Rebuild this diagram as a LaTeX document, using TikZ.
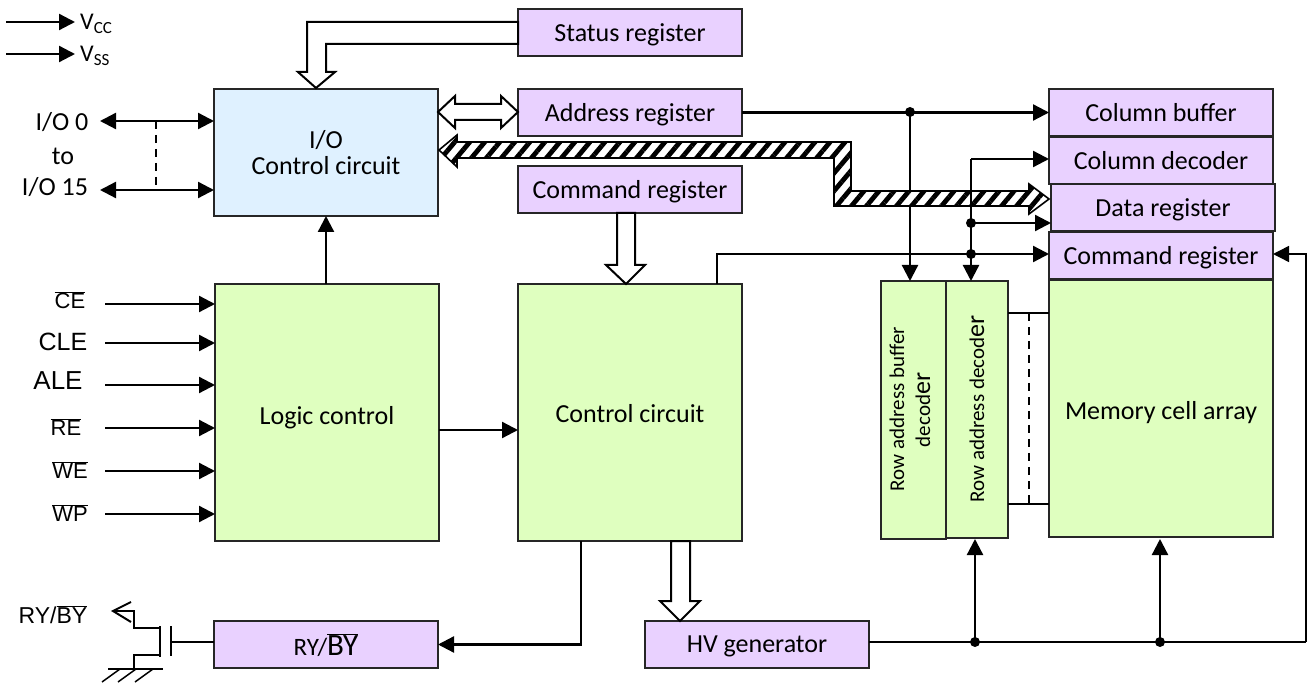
\documentclass[tikz,border=0pt]{standalone}
\usepackage{fontspec}
\setmainfont{Carlito}
\newfontfamily\arialf{Liberation Sans}
\usetikzlibrary{arrows.meta,patterns.meta,calc}
\newcommand{\fs}[1]{\fontsize{#1}{#1}\selectfont}
\newcommand{\ol}[1]{$\overline{\hbox{#1}}$}
\tikzset{
  box/.style={draw=black!85,line width=2.2pt,inner sep=0pt,outer sep=0pt,anchor=north west,align=center,font=\fs{26},text depth=0pt},
  lilac/.style={box,fill=lilacc,minimum width=224pt,minimum height=47pt},
  greenb/.style={box,fill=greenc},
  conn/.style={line width=2.3pt,draw=black,-{Triangle[length=16pt,width=16pt]}},
  conntwo/.style={line width=2.3pt,draw=black,{Triangle[length=16pt,width=16pt]}-{Triangle[length=16pt,width=16pt]}},
  plain/.style={line width=2.2pt,draw=black},
  thinl/.style={line width=1.5pt,draw=black},
  dot/.style={circle,fill=black,inner sep=0pt,minimum size=10pt},
  lab/.style={inner sep=0pt,font=\fs{26}},
  alab/.style={inner sep=0pt,font=\arialf\fs{22}},
  hollow/.style={line width=2pt,draw=black,fill=white,line join=miter},
  dashline/.style={line width=1.8pt,draw=black,dash pattern=on 8pt off 6pt},
}
\definecolor{lilacc}{HTML}{E9D1FF}
\definecolor{greenc}{HTML}{DFFFBF}
\definecolor{bluec}{HTML}{DFF1FF}
\begin{document}
\begin{tikzpicture}[x=1pt,y=-1pt]
\useasboundingbox (0,0) rectangle (1307,684);
% boxes
\node[lilac] (status) at (518,9) {Status register};
\node[box,fill=bluec,minimum width=224pt,minimum height=127pt] (io) at (214,89) {I/O\\Control circuit};
\node[lilac] (addr) at (518,89) {Address register};
\node[lilac] (cmdA) at (518,166) {Command register};
\node[greenb,minimum width=224pt,minimum height=257pt] (logic) at (215,284) {\raisebox{-5pt}{Logic control}};
\node[greenb,minimum width=224pt,minimum height=257pt] (ctrl) at (518,284) {\raisebox{-2pt}{Control circuit}};
\node[lilac] (colbuf) at (1049,89) {Column buffer};
\node[lilac] (coldec) at (1049,137) {Column decoder};
\node[lilac] (cmdB) at (1049,232) {Command register};
\node[lilac] (data) at (1051,184) {Data register};
\node[greenb,minimum width=224pt,minimum height=257pt] (mem) at (1049,280) {\raisebox{-4pt}{Memory cell array}};
\node[greenb,minimum width=65pt,minimum height=258pt] (rowbuf) at (881,281) {};
\node[greenb,minimum width=62pt,minimum height=257pt] (rowdec) at (946,281) {};
\node[lilac] (rybox) at (214,621) {\fs{25}RY/\fs{31}\ol{BY}};
\node[lilac] (hv) at (645,621) {HV generator};
\node[lab,rotate=90,font=\fs{21}] (rowbuftxt) at (897,409) {Row address buffer};
\node[lab,rotate=90,font=\fs{21}] (rowbuftxtb) at (923,410) {decod\fs{26}er};
\node[lab,rotate=90,font=\fs{21}] (rowdectxt) at (977,409) {Row address decod\fs{26}er};
% labels
\node[lab,anchor=west] (vcc) at (80,24) {\fs{24}V\raisebox{-4pt}{\fs{17}CC}};
\node[lab,anchor=west] (vss) at (80,56) {\fs{24}V\raisebox{-4pt}{\fs{17}SS}};
\node[lab] (io0) at (62,122) {I/O 0};
\node[lab] (ioto) at (63,156) {to};
\node[lab] (io15) at (55,187) {I/O 15};
\node[alab] (tce) at (70,300) {\ol{CE}};
\node[alab,font=\arialf\fs{25}] (tcle) at (63,342) {CLE};
\node[alab,font=\arialf\fs{26}] (tale) at (58,381) {ALE};
\node[alab] (tre) at (66,427) {\ol{RE}};
\node[alab] (twe) at (70,470) {\ol{WE}};
\node[alab] (twp) at (70,513) {\ol{WP}};
\node[alab,font=\arialf\fs{23}] (tryby) at (53,615) {RY/\ol{BY}};
% free ends
\coordinate (vccS) at (6,22);
\coordinate (vssS) at (6,54);
\coordinate (vccE) at (75,22);
\coordinate (vssE) at (75,54);
\coordinate (ioA) at (100,121);
\coordinate (ioB) at (100,190);
\coordinate (ce) at (105,304);
\coordinate (cle) at (105,343);
\coordinate (ale) at (105,385);
\coordinate (re) at (105,428);
\coordinate (we) at (105,471);
\coordinate (wp) at (105,514);
\coordinate (addrJ) at (910,112);
\coordinate (hvJa) at (975,642);
\coordinate (hvJb) at (1160,642);
\coordinate (cmdJ) at (971,254);
\coordinate (dataJ) at (971,223);
\coordinate (colC) at (971,159);
\coordinate (ctrlC) at (717,254);
\coordinate (ctrlT) at (717,284);
\coordinate (rightC) at (1306,642);
\coordinate (rowU) at (1008,313);
\coordinate (rowL) at (1008,504);
\coordinate (gate) at (171,642);
% connectors
\draw[conn] (vccS) -- (vccE);
\draw[conn] (vssS) -- (vssE);
\draw[conntwo] (ioA) -- (ioA -| io.west);
\draw[conntwo] (ioB) -- (ioB -| io.west);
\coordinate (dashA) at (156,121);
\coordinate (dashB) at (156,190);
\draw[dashline] (dashA) -- (dashB);
\foreach \s in {ce,cle,ale,re,we,wp} \draw[conn] (\s) -- (\s -| logic.west);
\draw[conn] ($(logic.north)+(-1,0)$) -- ($(io.south)+(0,0)$);
\draw[conn] ($(logic.east)+(0,17.5)$) -- ($(ctrl.west)+(0,17.5)$);
% address line, runs behind the bus
\draw[conn] (addr.east) -- (colbuf.west);
\draw[conn] (addrJ) -- (addrJ |- rowbuf.north);
\node[dot] (addrDot) at (addrJ) {};
% hatched bus
\coordinate (busL) at (439,150);
\coordinate (busR) at (1049,199);
\path[preaction={fill=white},pattern={Lines[angle=50,distance=11.5pt,line width=4.8pt]},pattern color=black]
  (busL) -- ++(18,-15) -- ++(0,7) -- (851,142) -- (851,191) -- (1029,191) -- ++(0,-7) -- (busR) -- ++(-20,15) -- ++(0,-8) -- (834,206) -- (834,158) -- (457,158) -- ++(0,9) -- cycle;
\draw[line width=1.6pt,line join=miter]
  (busL) -- ++(18,-15) -- ++(0,7) -- (851,142) -- (851,191) -- (1029,191) -- ++(0,-7) -- (busR) -- ++(-20,15) -- ++(0,-8) -- (834,206) -- (834,158) -- (457,158) -- ++(0,9) -- cycle;
% column / command lines
\draw[conn] (colC) -- (colC |- rowdec.north);
\draw[conn] (colC) -- (colC -| coldec.west);
\draw[conn] (dataJ) -- (dataJ -| data.west);
\node[dot] (dataDot) at (dataJ) {};
\draw[thinl] (ctrlT) -- (ctrlC) -- (cmdJ);
\draw[conn] (cmdJ) -- (cmdJ -| cmdB.west);
\node[dot] (cmdDot) at (cmdJ) {};
% bottom
\coordinate (ctrlOut) at (581,541);
\draw[conn] (ctrlOut) |- (rybox.east);
\draw[thinl] (hvJa -| hv.east) -- (rightC);
\draw[thinl,-{Triangle[length=16pt,width=16pt]}] (rightC) |- (cmdJ -| cmdB.east);
\draw[conn] (hvJa) -- ($(hvJa |- rowdec.south)+(0,1)$);
\draw[conn] (hvJb) -- ($(hvJb |- mem.south)+(0,2)$);
\node[dot] (hvDotA) at (hvJa) {};
\node[dot] (hvDotB) at (hvJb) {};
% row decoder to memory
\draw[plain] (rowU) -- (rowU -| mem.west);
\draw[plain] (rowL) -- (rowL -| mem.west);
\coordinate (dashC) at (1029,313);
\coordinate (dashD) at (1029,504);
\draw[dashline] (dashC) -- (dashD);
% hollow arrows
\coordinate (stTip) at (316,88);
\draw[hollow] (stTip) -- ++(-18,-16) -- ++(9,0) |- (518,22) -- (518,44) -| (326,72) -- ++(9,0) -- cycle;
\coordinate (adL) at (438,112);
\coordinate (adR) at (518,112);
\draw[hollow] (adL) -- ++(17,-16) -- ++(0,8) -- ++(46,0) -- ++(0,-8) -- (adR) -- ++(-17,16) -- ++(0,-8) -- ++(-46,0) -- ++(0,8) -- cycle;
\coordinate (cmTip) at (626,284);
\draw[hollow] (cmTip) -- ++(-20,-19) -- ++(11,0) -- (617,213) -- (635,213) -- (635,265) -- ++(10,0) -- cycle;
\coordinate (hvTip) at (680,621);
\draw[hollow] (hvTip) -- ++(-20,-20) -- ++(11,0) -- (671,541) -- (690,541) -- (690,601) -- ++(10,0) -- cycle;
% transistor
\coordinate (rybT) at (113,611);
\coordinate (gnd) at (134,669);
\draw[thinl] (rybT) -- (134,611) -- (134,628) -- (160,628) -- (160,655) -- (134,655) -- (gnd);
\draw[line width=2pt] (131,602) -- (rybT) -- (131,622);
\draw[plain] (160,626) -- (160,657);
\draw[thinl] (171,626) -- (171,656);
\draw[thinl] (gate) -- (gate -| rybox.west);
\draw[thinl] (108,669) -- (163,669);
\draw[thinl] (120,669) -- (102,682);
\draw[thinl] (136,669) -- (118,682);
\draw[thinl] (153,669) -- (135,682);
\end{tikzpicture}
\end{document}
